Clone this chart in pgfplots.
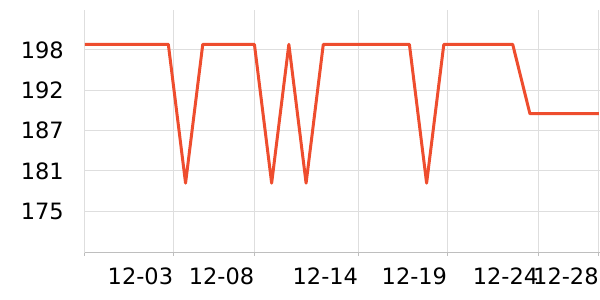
\documentclass[border=0pt]{standalone}
\usepackage{fontspec}
\setmainfont{DejaVu Sans}
\usepackage{pgfplots}
\pgfplotsset{compat=1.18}
\definecolor{lc}{RGB}{238,77,46}
\definecolor{gc}{RGB}{222,222,222}
\definecolor{ac}{RGB}{190,190,190}
\begin{document}
\begin{tikzpicture}
\path[use as bounding box] (-85pt,-47.5pt) rectangle (515pt,252.5pt);
\begin{axis}[
  at={(0,0)}, anchor=south west,
  scale only axis, width=515pt, height=242.5pt,
  xmin=0.16, xmax=30.07, ymin=169.1, ymax=203.7,
  separate axis lines,
  axis x line*=bottom, axis y line*=left,
  x axis line style={draw=ac, line width=1pt, -},
  y axis line style={draw=none},
  xtick={0.16,5.29,10,16.03,21.2,26.49,30},
  xticklabels={,12-03,12-08,12-14,12-19,12-24,12-28},
  ytick={175,180.75,186.5,192.25,198},
  yticklabels={175,181,187,192,198},
  grid=major,
  major grid style={draw=gc, line width=1pt},
  tick align=outside,
  major x tick style={draw=ac, line width=1pt},
  major tick length=3pt,
  major y tick style={draw=none},
  tick label style={font=\fontsize{22.5}{26}\selectfont, text=black},
  xticklabel style={anchor=north east, inner sep=0pt, yshift=-12.5pt},
  yticklabel style={anchor=east, inner sep=0pt, xshift=-18pt},
  /pgf/number format/assume math mode=true,
]
\addplot[color=lc, line width=3pt, line join=round, mark=none] coordinates {
(0,198.8) (1,198.8) (2,198.8) (3,198.8) (4,198.8) (5,198.8)
(6,179.0)
(7,198.8) (8,198.8) (9,198.8) (10,198.8)
(11,179.0)
(12,198.8)
(13,179.0)
(14,198.8) (15,198.8) (16,198.8) (17,198.8) (18,198.8) (19,198.8)
(20,179.0)
(21,198.8) (22,198.8) (23,198.8) (24,198.8) (25,198.8)
(26,188.9) (27,188.9) (28,188.9) (29,188.9) (30,188.9)
};
\end{axis}
\end{tikzpicture}
\end{document}
